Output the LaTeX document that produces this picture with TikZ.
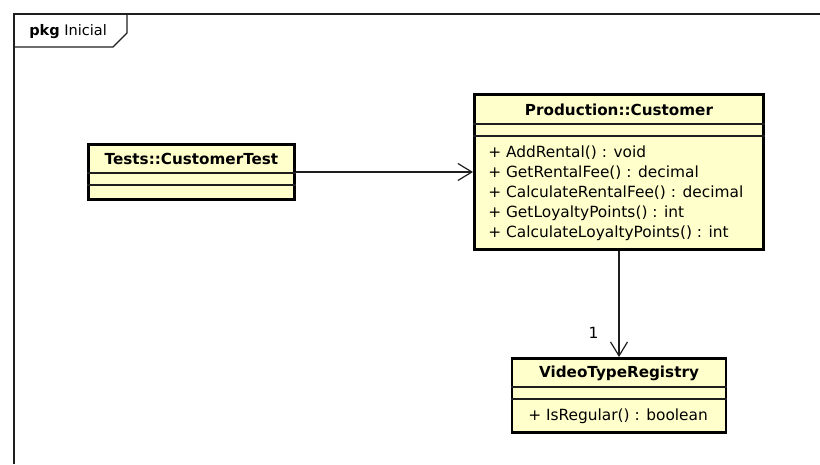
\documentclass[tikz,border=0pt]{standalone}
\usepackage{xcolor}
\usepackage{fontspec}
\setmainfont{DejaVu Sans}
\usepackage{tikz}
\usetikzlibrary{arrows.meta, shapes}
\definecolor{classyellow}{RGB}{255,255,204}
\definecolor{lineink}{RGB}{30,30,30}

\begin{document}
\begin{tikzpicture}[x=0.75pt,y=-0.75pt]
		\tikzstyle{every node} = [inner sep=0pt, text=black, font=\fontsize{11.55}{15}\selectfont]
		\tikzstyle{classbox} = [draw=black, line width=2.2pt, fill=classyellow, rectangle]
		\tikzstyle{classtitle} = [font=\fontsize{11.4}{14}\selectfont\bfseries]
		\tikzstyle{sep} = [draw=lineink, line width=0.8pt]
		\tikzstyle{assoc} = [draw=lineink, line width=0.9pt, -{Straight Barb[length=10.5pt, width=12.75pt]}]
			\useasboundingbox (0,0) rectangle (820,464);
			% package frame
			\path[draw=lineink, line width=0.8pt] (14,464)--(14,14)--(820,14);
			\path[draw=lineink, line width=0.8pt] (14,47)--(113,47)--(127,33)--(127,14);
			\node[anchor=west, font=\fontsize{10.9}{13}\selectfont] (pkg) at (29,32) {\textbf{pkg} Inicial};
			% classes
			\node[classbox, minimum width=154.5pt, minimum height=41.25pt] (test) at (191.5,172) {};
			\node[classtitle] (testname) at (191.5,159) {Tests::CustomerTest};
			\path[sep] (test.west |- 0,173)--(test.east |- 0,173);
			\path[sep] (test.west |- 0,185)--(test.east |- 0,185);
			\node[classbox, minimum width=216.75pt, minimum height=116.25pt] (customer) at (619,172) {};
			\node[classtitle] (customername) at (619,110) {Production::Customer};
			\path[sep] (customer.west |- 0,124)--(customer.east |- 0,124);
			\path[sep] (customer.west |- 0,136)--(customer.east |- 0,136);
			\node[anchor=west, align=left] (customerops) at (488,193) {+ AddRental() : void\\
				+ GetRentalFee() : decimal\\
				+ CalculateRentalFee() : decimal\\
				+ GetLoyaltyPoints() : int\\
				+ CalculateLoyaltyPoints() : int};
			\node[classbox, minimum width=160.5pt, minimum height=55.5pt] (registry) at (619,395.5) {};
			\node[classtitle] (registryname) at (619,373) {VideoTypeRegistry};
			\path[sep] (registry.west |- 0,387)--(registry.east |- 0,387);
			\path[sep] (registry.west |- 0,399)--(registry.east |- 0,399);
			\node[anchor=west] (registryops) at (528,416) {+ IsRegular() : boolean};
			% associations
			\path[assoc] (test)--(customer);
			\path[assoc] (customer.south)--(registry.north)
				node[pos=0.77, left=15pt] (mult) {1};
		\end{tikzpicture}
\end{document}
